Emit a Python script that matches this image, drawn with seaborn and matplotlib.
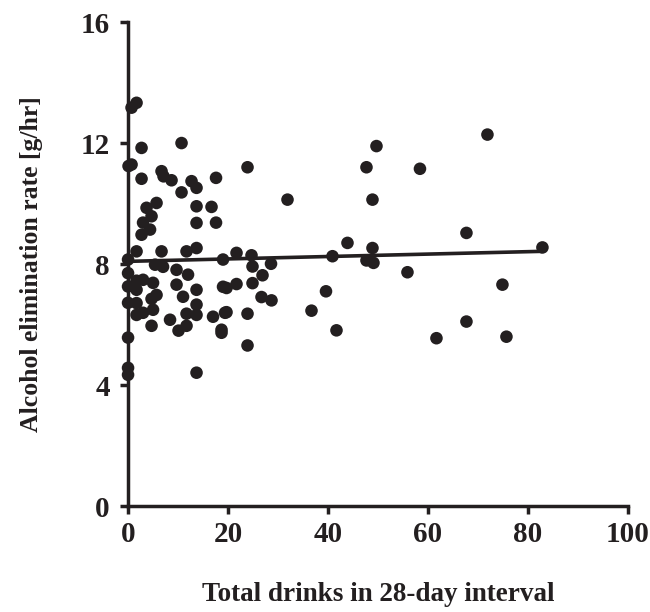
import numpy as np
import pandas as pd
import matplotlib
matplotlib.use("Agg")
import matplotlib.pyplot as plt
import seaborn as sns

# values
drinks = [1.7, 0.7, 2.7, 10.7, 0.1, 0.7, 2.7, 6.7, 7.1, 8.7,
          10.7, 12.7, 13.7, 17.6, 5.7, 3.7, 13.7, 16.7, 4.7, 3.0,
          2.7, 4.4, 13.7, 17.6, 1.7, 6.7, 11.7, 13.7, 19.0, 0.0,
          5.4, 7.0, 9.7, 12.0, 0.0, 0.0, 3.0, 5.0, 1.7, 5.7,
          9.7, 11.0, 13.7, 19.0, 0.0, 1.7, 3.0, 5.0, 13.7, 17.0,
          8.4, 1.7, 4.7, 10.1, 11.7, 11.7, 13.7, 19.4, 18.7, 18.7,
          0.0, 0.0, 0.0, 13.7, 1.7, 4.7,
          49.7, 23.9, 47.7, 58.4, 31.9, 48.9, 43.9, 21.7, 24.7, 40.9,
          48.9, 47.7, 49.1, 28.6, 24.9, 26.9, 24.9, 19.7, 21.7, 55.9,
          39.6, 26.7, 28.7, 19.7, 23.9, 36.7, 41.7, 23.9,
          71.9, 67.7, 82.9, 74.9, 67.7, 61.7, 75.7]
rate = [13.33, 13.17, 11.84, 12.0, 11.24, 11.29, 10.82, 11.07, 10.9, 10.77,
        10.37, 10.74, 10.52, 10.85, 10.02, 9.86, 9.91, 9.89, 9.58, 9.37,
        8.97, 9.14, 9.36, 9.37, 8.42, 8.42, 8.42, 8.53, 8.15, 8.15,
        7.98, 7.91, 7.81, 7.65, 7.7, 7.26, 7.48, 7.38, 7.15, 6.98,
        7.32, 6.92, 7.15, 7.25, 6.72, 6.71, 6.39, 6.49, 6.32, 6.26,
        6.16, 6.32, 5.96, 5.8, 5.96, 6.36, 6.66, 6.39, 5.83, 5.73,
        5.57, 4.57, 4.34, 4.41, 7.45, 6.85,
        11.9, 11.2, 11.2, 11.15, 10.13, 10.13, 8.7, 8.37, 8.29, 8.26,
        8.53, 8.12, 8.04, 8.01, 7.92, 7.63, 7.37, 7.21, 7.34, 7.73,
        7.1, 6.91, 6.8, 6.41, 6.36, 6.46, 5.81, 5.31,
        12.28, 9.03, 8.55, 7.32, 6.1, 5.55, 5.6]

# fitted line as printed in the figure
fit_intercept = 8.09
fit_slope = 0.004

x_ticks = [0, 20, 40, 60, 80, 100]
y_ticks = [0, 4, 8, 12, 16]

df = pd.DataFrame({"drinks": drinks, "rate": rate})
fit_x = [min(drinks), max(drinks)]
fit = pd.DataFrame({"drinks": fit_x,
                    "rate": [fit_intercept + fit_slope * v for v in fit_x]})

sns.set_style("ticks")
plt.rcParams["font.family"] = ["Liberation Serif", "DejaVu Serif"]
plt.rcParams["font.weight"] = "bold"

ink = "#231f20"
fig = plt.figure(figsize=(6.5, 6.12), dpi=100)
ax = fig.add_axes([0.197, 0.173, 0.769, 0.791])

sns.scatterplot(data=df, x="drinks", y="rate", ax=ax, s=82, color=ink,
                edgecolor="none", linewidth=0, zorder=3)
sns.lineplot(data=fit, x="drinks", y="rate", ax=ax, color=ink, lw=2.6,
             zorder=2)

ax.set_xlim(0, 100)
ax.set_ylim(0, 16)
ax.set_xticks(x_ticks)
ax.set_yticks(y_ticks)
ax.set_xlabel("Total drinks in 28-day interval", fontsize=19.5, fontweight="bold",
              labelpad=24, color=ink)
ax.set_ylabel("Alcohol elimination rate [g/hr]", fontsize=18.5, fontweight="bold",
              labelpad=27, color=ink)
ax.tick_params(axis="both", direction="out", length=6, width=2.5,
               labelsize=21, colors=ink)
ax.tick_params(axis="x", pad=5)
ax.tick_params(axis="y", pad=7)
for lbl in ax.get_xticklabels() + ax.get_yticklabels():
    lbl.set_fontweight("bold")

sns.despine(ax=ax)
for side in ["left", "bottom"]:
    ax.spines[side].set_linewidth(2.5)
    ax.spines[side].set_color(ink)
for c in ax.collections + ax.lines:
    c.set_clip_on(False)

fig.savefig("out.png", dpi=100)
